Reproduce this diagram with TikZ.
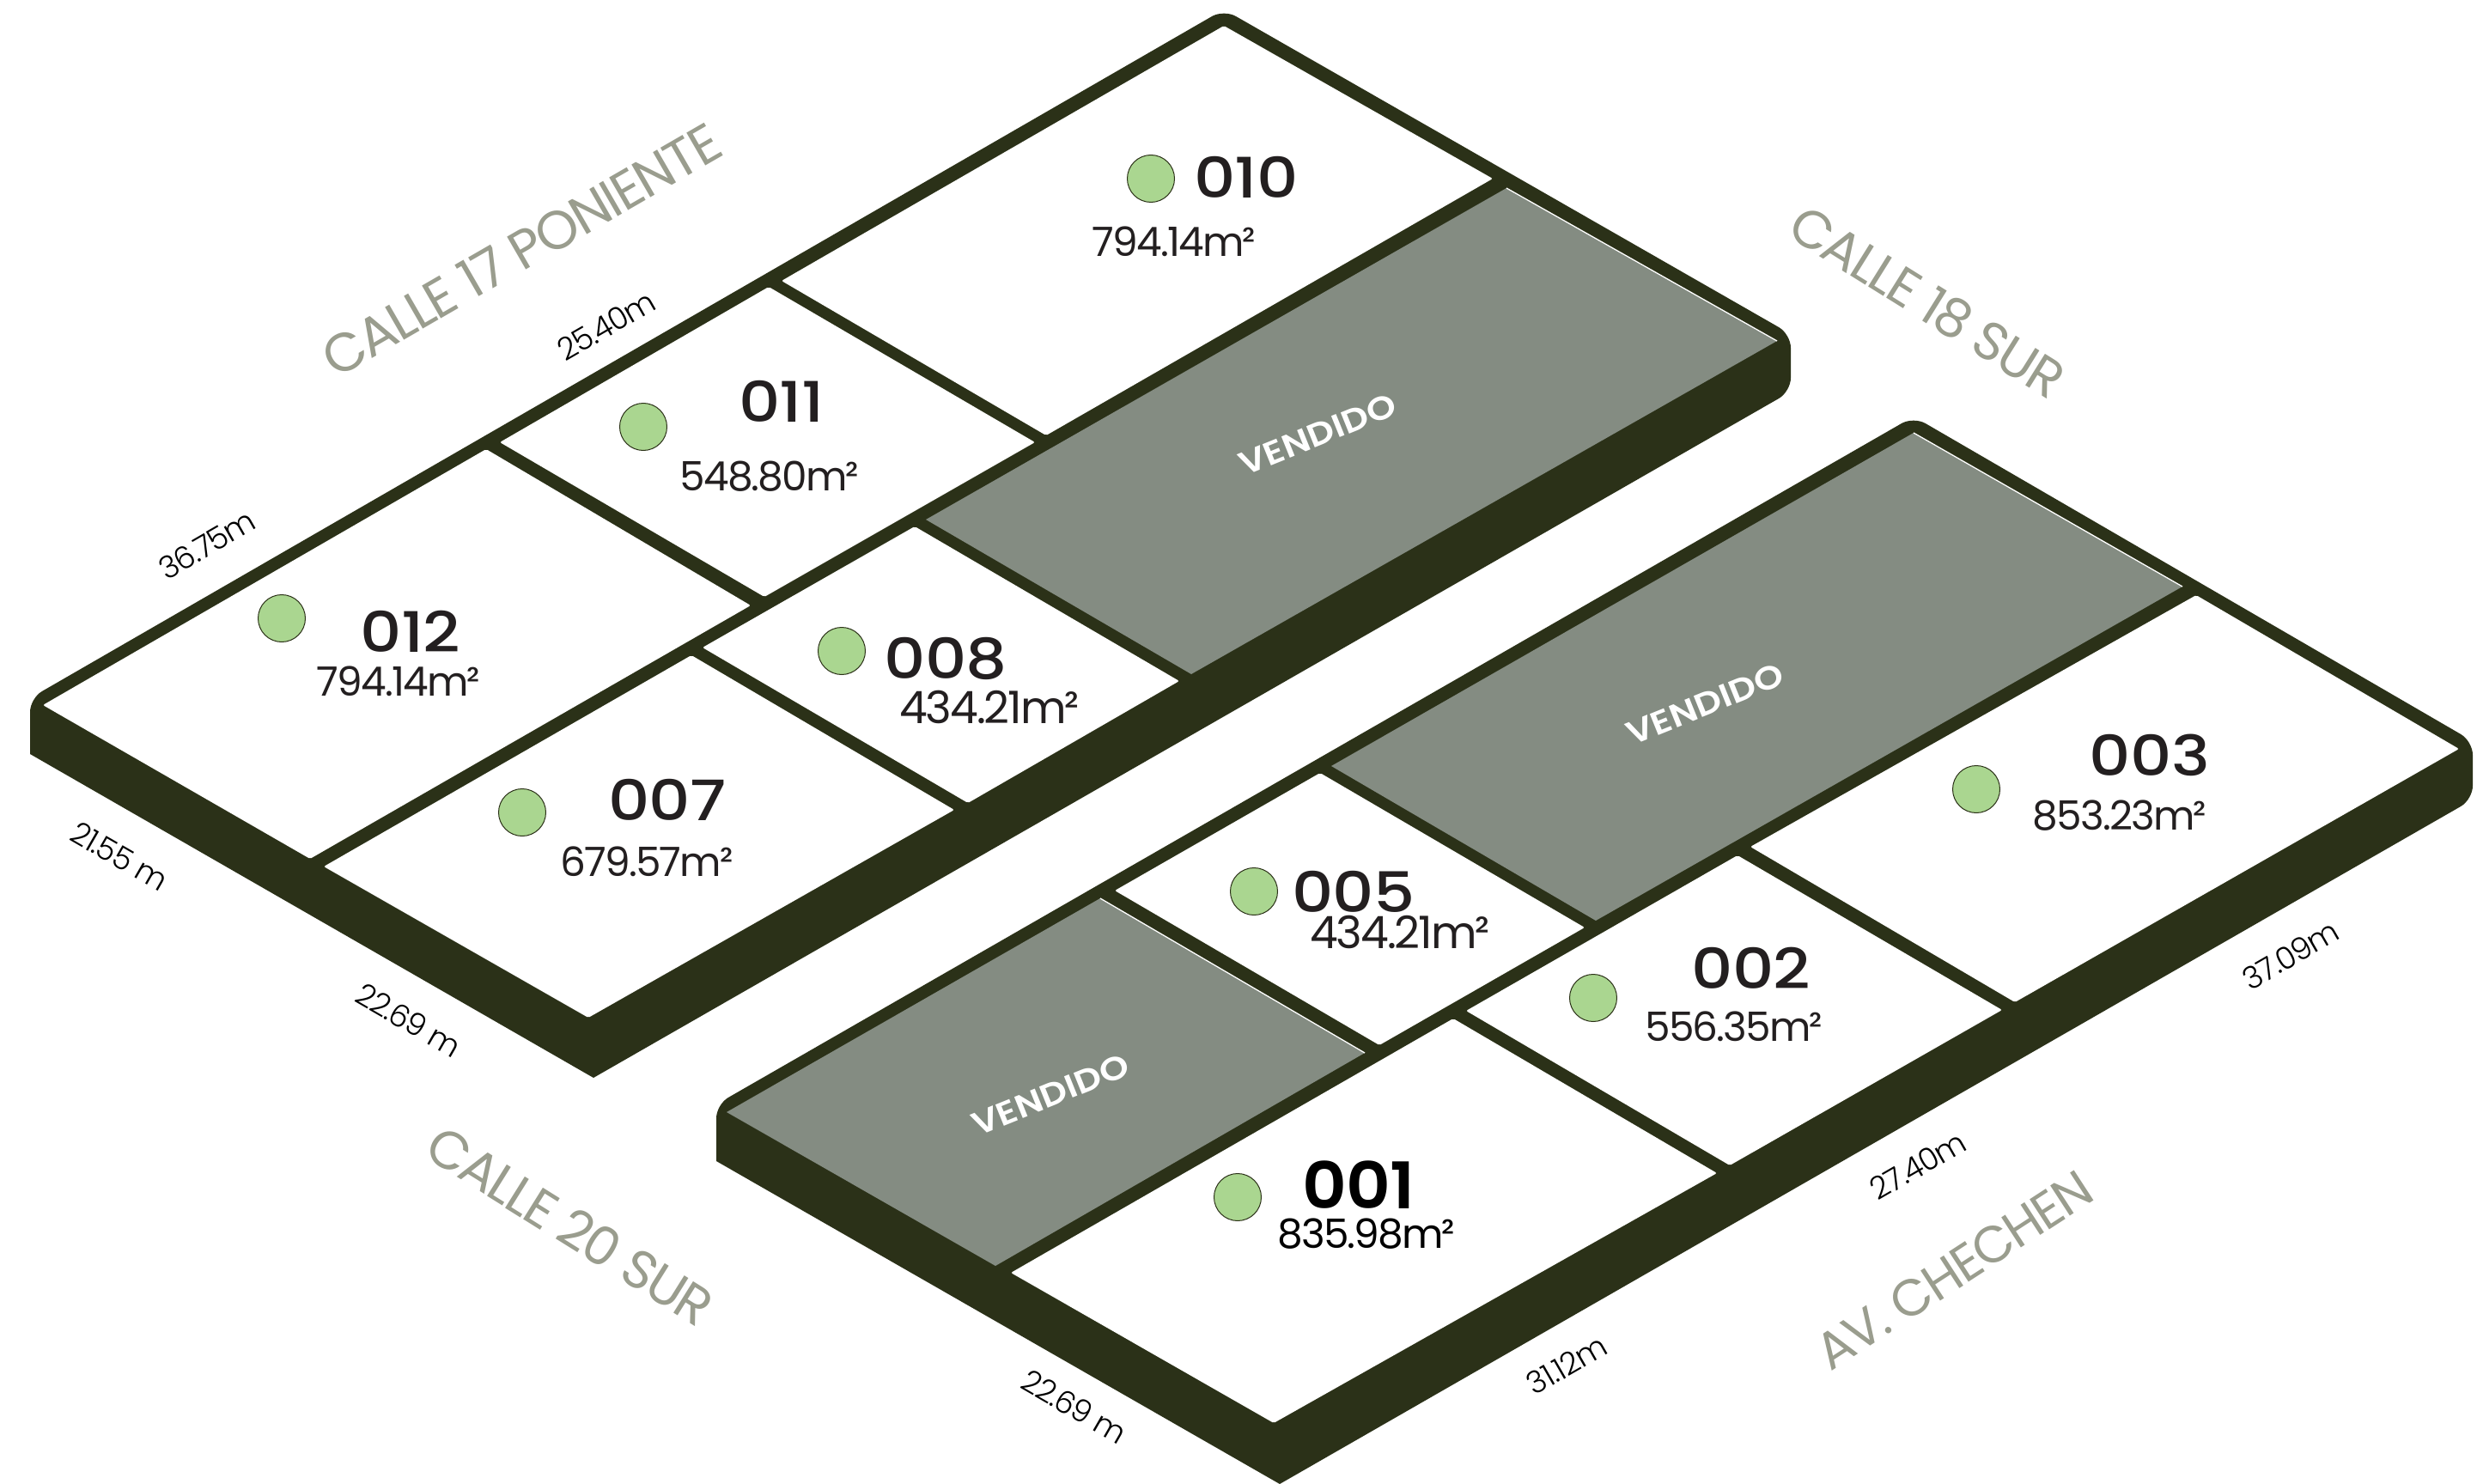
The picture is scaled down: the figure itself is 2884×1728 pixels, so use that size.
\documentclass[tikz,border=0pt]{standalone}
\usepackage{fontspec}
\setmainfont{Poppins}
\newfontfamily\flight[LetterSpace=-3]{Poppins Light}
\newfontfamily\freg[LetterSpace=-4]{Poppins}
\newfontfamily\fstreet[LetterSpace=-3.5]{Poppins}
\newfontfamily\fid[FakeStretch=1.16,LetterSpace=-1]{Poppins Medium}
\newfontfamily\fidb[FakeStretch=1.07,LetterSpace=-1]{Poppins SemiBold}
\newfontfamily\fsold[FakeStretch=1.14]{Poppins SemiBold}
\definecolor{dk}{HTML}{2B3118}
\definecolor{sold}{HTML}{848C82}
\definecolor{grn}{HTML}{AAD690}
\definecolor{street}{HTML}{9A9D8E}
\definecolor{ink}{HTML}{231F20}
\tikzset{
  x=1pt,y=-1pt,
  base/.style={fill=dk},
  plot/.style={fill=white,rounded corners=2pt},
  soldplot/.style={fill=sold},
  hair/.style={draw=white,line width=1.3pt},
  dot/.style={circle,fill=grn,draw=dk,line width=1pt,minimum size=55pt,inner sep=0pt},
  lotid/.style={font=\fid\fontsize{65}{65}\selectfont,text=ink,inner sep=0pt},
  area/.style={font=\freg\fontsize{47}{47}\selectfont,text=ink,inner sep=0pt},
  soldtxt/.style={font=\fsold\fontsize{38}{38}\selectfont,text=white,inner sep=0pt,rotate=22},
  streetn/.style={font=\fstreet\fontsize{62}{62}\selectfont,text=street,inner sep=0pt},
  dim/.style={font=\flight\fontsize{36}{36}\selectfont,text=black,inner sep=0pt},
}
\begin{document}
\begin{tikzpicture}
\useasboundingbox (0,0) rectangle (2884,1728);
% block 1
\fill[base] (35,878) [rounded corners=16pt] -- (35,813) -- (1425,11) -- (2085,389) -- (2085,456) [sharp corners] -- (691,1255) -- cycle;
\fill[plot] (1425,30) -- (1738,208) -- (1218,507) -- (910,327) -- cycle;
\fill[plot] (895,334) -- (1205,515) -- (890,695) -- (582,515) -- cycle;
\fill[plot] (566,523) -- (874,705) -- (361,1000) -- (50,821) -- cycle;
\fill[plot] (805,763) -- (1111,943) -- (685,1185) -- (377,1009) -- cycle;
\fill[plot] (1065,613) -- (1373,793) -- (1127,935) -- (818,754) -- cycle;
\fill[soldplot] (1078,605) -- (1754,219) -- (2069,397) -- (1387,785) -- cycle;
\draw[hair] (1754,219) -- (2069,397);
% block 2
\fill[base] (834,1352) [rounded corners=16pt] -- (834,1286) -- (2228,485) -- (2879,863) -- (2879,931) [sharp corners] -- (1490,1728) -- cycle;
\fill[soldplot] (1550,892) -- (2228,504) -- (2541,683) -- (1858,1072) -- cycle;
\draw[hair] (2228,504) -- (2541,683);
\fill[plot] (2557,693) -- (2863,872) -- (2346,1167) -- (2038,986) -- cycle;
\fill[plot] (2023,996) -- (2331,1176) -- (2014,1357) -- (1707,1177) -- cycle;
\fill[plot] (1692,1186) -- (1999,1366) -- (1483,1657) -- (1177,1482) -- cycle;
\fill[plot] (1537,900) -- (1845,1080) -- (1606,1217) -- (1298,1037) -- cycle;
\fill[soldplot] (846,1295) -- (1281,1046) -- (1589,1226) -- (1159,1474) -- cycle;
\draw[hair] (1281,1046) -- (1589,1226);
% dots
\node[dot] (d010) at (1340,208) {};
\node[dot] (d011) at (749,497) {};
\node[dot] (d012) at (328,720) {};
\node[dot] (d008) at (980,758) {};
\node[dot] (d007) at (608,946) {};
\node[dot] (d003) at (2301,919) {};
\node[dot] (d002) at (1855,1162) {};
\node[dot] (d005) at (1460,1038) {};
\node[dot] (d001) at (1441,1394) {};
% lot ids
\node[lotid] (l010) at (1451,206) {010};
\node[lotid] (l011) at (910,467) {011};
\node[lotid] (l012) at (478,735) {012};
\node[lotid] (l008) at (1101,767) {008};
\node[lotid] (l007) at (777,931) {007};
\node[lotid] (l003) at (2503,879) {003};
\node[lotid] (l002) at (2039,1127) {002};
\node[lotid] (l005) at (1576,1038) {005};
\node[lotid,text=black,font=\fidb\fontsize{75}{75}\selectfont] (l001) at (1582,1380) {001};
% areas
\node[area] (a010) at (1367,281) {794.14m²};
\node[area] (a011) at (896,555) {548.80m²};
\node[area] (a012) at (464,793) {794.14m²};
\node[area,font=\freg\fontsize{52}{52}\selectfont] (a008) at (1152,823) {434.21m²};
\node[area] (a007) at (753,1003) {679.57m²};
\node[area] (a003) at (2468,950) {853.23m²};
\node[area,font=\freg\fontsize{52}{52}\selectfont] (a005) at (1630,1085) {434.21m²};
\node[area] (a002) at (2019,1195) {556.35m²};
\node[area,text=black] (a001) at (1591,1437) {835.98m²};
% sold
\node[soldtxt] (s1) at (1534,506) {VENDIDO};
\node[soldtxt] (s2) at (1985,820) {VENDIDO};
\node[soldtxt] (s3) at (1223,1275) {VENDIDO};
% streets
\node[streetn,rotate=30,font=\fstreet\fontsize{63}{63}\selectfont] (c17) at (607,291) {CALLE 17 PONIENTE};
\node[streetn,rotate=-32] (c18) at (2244,351) {CALLE 18 SUR};
\node[streetn,rotate=-32] (c20) at (664,1427) {CALLE 20 SUR};
\node[streetn,rotate=33,font=\fstreet\fontsize{60}{60}\selectfont] (av) at (2275,1479) {AV. CHECHEN};
% dims
\node[dim,rotate=30] (m1) at (706,379) {25.40m};
\node[dim,rotate=30] (m2) at (241,634) {36.75m};
\node[dim,rotate=-30] (m3) at (139,997) {21.55 m};
\node[dim,rotate=-30] (m4) at (476,1188) {22.69 m};
\node[dim,rotate=-30] (m5) at (1251,1638) {22.69 m};
\node[dim,rotate=30] (m6) at (1824,1589) {31.12m};
\node[dim,rotate=30] (m7) at (2233,1357) {27.40m};
\node[dim,rotate=30] (m8) at (2667,1112) {37.09m};
\end{tikzpicture}
\end{document}
